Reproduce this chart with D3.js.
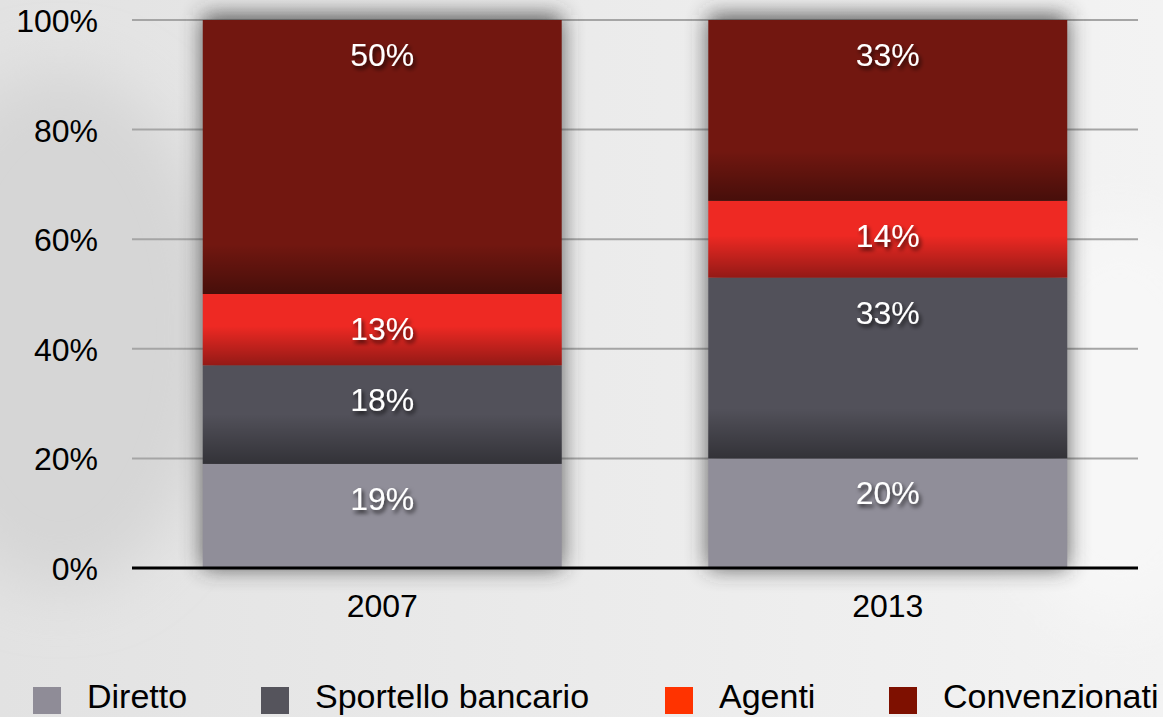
<!DOCTYPE html>
<html>
<head>
<meta charset="utf-8">
<script src="https://cdn.jsdelivr.net/npm/d3@7"></script>
<style>
  html, body { margin: 0; padding: 0; overflow: hidden; }
  svg { display: block; font-family: "Liberation Sans", Arial, Helvetica, sans-serif; }
</style>
</head>
<body>
<script>
// data
const years = ["2007", "2013"];
const seriesNames = ["Diretto", "Sportello bancario", "Agenti", "Convenzionati"];
const diretto = [19, 20];
const sportello = [18, 33];
const agenti = [13, 14];
const convenzionati = [50, 33];
const yTicks = [0, 20, 40, 60, 80, 100];

const width = 1163, height = 717;
const barColors = ["#908e99", "#52515a", "#ee2923", "#721710"];
const legendColors = ["#8f8c97", "#55545c", "#ff3300", "#7e1000"];

const rows = years.map((y, i) => ({
    year: y,
    "Diretto": diretto[i],
    "Sportello bancario": sportello[i],
    "Agenti": agenti[i],
    "Convenzionati": convenzionati[i]
}));

const stacked = d3.stack().keys(seriesNames)(rows);

const svg = d3.select("body").append("svg")
    .attr("width", width)
    .attr("height", height);

const defs = svg.append("defs");

// background
const bg = defs.append("linearGradient").attr("id", "bg")
    .attr("x1", 0).attr("y1", 0).attr("x2", 1).attr("y2", 0);
bg.append("stop").attr("offset", "0%").attr("stop-color", "#e2e2e2");
bg.append("stop").attr("offset", "45%").attr("stop-color", "#eaeaea");
bg.append("stop").attr("offset", "100%").attr("stop-color", "#f3f3f3");

const blur = defs.append("filter").attr("id", "soft")
    .attr("x", "-50%").attr("y", "-50%").attr("width", "200%").attr("height", "200%");
blur.append("feGaussianBlur").attr("stdDeviation", 30);

const shadow = defs.append("filter").attr("id", "barShadow")
    .attr("x", "-20%").attr("y", "-20%").attr("width", "140%").attr("height", "140%");
shadow.append("feGaussianBlur").attr("stdDeviation", 11);

const textShadow = defs.append("filter").attr("id", "textShadow")
    .attr("x", "-20%").attr("y", "-30%").attr("width", "140%").attr("height", "160%");
textShadow.append("feDropShadow")
    .attr("dx", 2).attr("dy", 3).attr("stdDeviation", 2)
    .attr("flood-color", "#000").attr("flood-opacity", 0.75);

const dark = defs.append("linearGradient").attr("id", "darken")
    .attr("x1", 0).attr("y1", 0).attr("x2", 0).attr("y2", 1);
dark.append("stop").attr("offset", "0%").attr("stop-color", "#000").attr("stop-opacity", 0);
dark.append("stop").attr("offset", "100%").attr("stop-color", "#000").attr("stop-opacity", 0.38);

svg.append("rect").attr("width", width).attr("height", height).attr("fill", "url(#bg)");
svg.append("ellipse").attr("cx", 60).attr("cy", 330).attr("rx", 160).attr("ry", 260)
    .attr("fill", "#d6d6d6").attr("filter", "url(#soft)");
svg.append("ellipse").attr("cx", 1120).attr("cy", 420).attr("rx", 120).attr("ry", 200)
    .attr("fill", "#f7f7f7").attr("filter", "url(#soft)");

const x = d3.scaleBand()
    .domain(years)
    .range([132, 1138])
    .paddingInner(0.29)
    .paddingOuter(0.14);

const y = d3.scaleLinear()
    .domain([0, 100])
    .range([568, 20]);

// gridlines
svg.append("g")
    .selectAll("line")
    .data(yTicks.filter(d => d > 0))
    .join("line")
    .attr("x1", 132).attr("x2", 1138)
    .attr("y1", d => y(d)).attr("y2", d => y(d))
    .attr("stroke", "#a5a5a5")
    .attr("stroke-width", 2);

// bar shadows
svg.append("g")
    .selectAll("rect")
    .data(years)
    .join("rect")
    .attr("x", d => x(d))
    .attr("y", y(100) - 5)
    .attr("width", x.bandwidth())
    .attr("height", y(0) - y(100) + 5)
    .attr("fill", "#333")
    .attr("opacity", 0.8)
    .attr("filter", "url(#barShadow)");

// segments
const layers = svg.append("g")
    .selectAll("g")
    .data(stacked)
    .join("g")
    .attr("fill", (d, i) => barColors[i]);

layers.selectAll("rect.seg")
    .data(d => d)
    .join("rect")
    .attr("class", "seg")
    .attr("x", d => x(d.data.year))
    .attr("y", d => y(d[1]))
    .attr("width", x.bandwidth())
    .attr("height", d => y(d[0]) - y(d[1]));

// darker bottom edge of each segment (not on the lowest one)
layers.filter((d, i) => i > 0)
    .selectAll("rect.shade")
    .data(d => d)
    .join("rect")
    .attr("class", "shade")
    .attr("x", d => x(d.data.year))
    .attr("width", x.bandwidth())
    .attr("y", d => {
        const h = y(d[0]) - y(d[1]);
        return y(d[0]) - Math.min(50, h * 0.55);
    })
    .attr("height", d => Math.min(50, (y(d[0]) - y(d[1])) * 0.55))
    .attr("fill", "url(#darken)");

// value labels
layers.selectAll("text")
    .data(d => d)
    .join("text")
    .attr("x", d => x(d.data.year) + x.bandwidth() / 2)
    .attr("y", d => y(d[1]) + 46)
    .attr("text-anchor", "middle")
    .attr("fill", "#fff")
    .attr("font-size", 32)
    .attr("filter", "url(#textShadow)")
    .text(d => (d[1] - d[0]) + "%");

// x axis line
svg.append("line")
    .attr("x1", 132).attr("x2", 1138)
    .attr("y1", y(0)).attr("y2", y(0))
    .attr("stroke", "#000")
    .attr("stroke-width", 3);

// y tick labels
svg.append("g")
    .selectAll("text")
    .data(yTicks)
    .join("text")
    .attr("x", 98)
    .attr("y", d => y(d) + 12)
    .attr("text-anchor", "end")
    .attr("font-size", 32)
    .attr("fill", "#000")
    .text(d => d + "%");

// x labels
svg.append("g")
    .selectAll("text")
    .data(years)
    .join("text")
    .attr("x", d => x(d) + x.bandwidth() / 2)
    .attr("y", 617)
    .attr("text-anchor", "middle")
    .attr("font-size", 32)
    .attr("fill", "#000")
    .text(d => d);

// legend
const legendX = [33, 261, 665, 889];
const legend = svg.append("g")
    .selectAll("g")
    .data(seriesNames)
    .join("g")
    .attr("transform", (d, i) => `translate(${legendX[i]},687)`);

legend.append("rect")
    .attr("width", 28)
    .attr("height", 27)
    .attr("fill", (d, i) => legendColors[i]);

legend.append("text")
    .attr("x", 54)
    .attr("y", 21)
    .attr("font-size", 34)
    .attr("fill", "#000")
    .text(d => d);
</script>
</body>
</html>
